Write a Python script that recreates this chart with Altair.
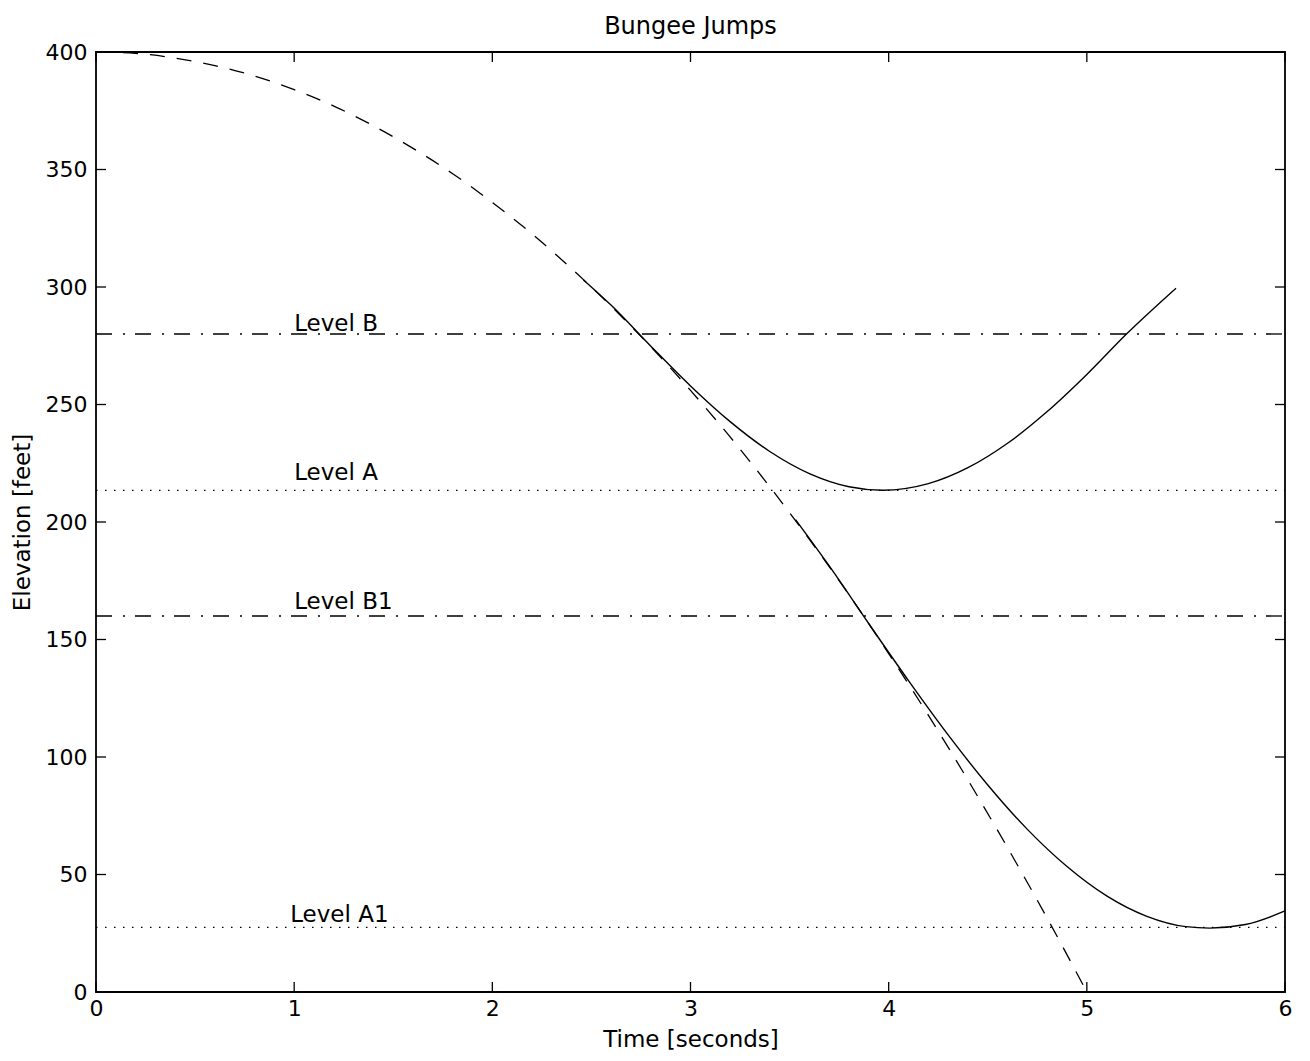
import altair as alt
import pandas as pd

# ---- data ----
t_free = [0.0, 0.2, 0.4, 0.6, 0.8, 1.0, 1.2, 1.4, 1.6, 1.8, 2.0, 2.2, 2.4, 2.6,
          2.8, 3.0, 3.2, 3.4, 3.6, 3.8, 4.0, 4.2, 4.4, 4.6, 4.8, 5.0]
y_free = [400, 399.4, 397.4, 394.2, 389.8, 384, 377, 368.6, 359, 348.2, 336, 322.6,
          307.8, 291.8, 274.6, 256, 236.2, 215, 192.6, 169, 144, 117.8, 90.2, 61.4,
          31.4, 0]

t_jump1 = [2.46, 2.6, 2.8, 3.0, 3.2, 3.4, 3.6, 3.8, 3.97, 4.2, 4.4, 4.6, 4.8, 5.0,
           5.2, 5.45]
y_jump1 = [303, 292.2, 274.8, 257.9, 242.7, 230.0, 220.6, 215.0, 213.5, 216.3, 223.1,
           233.5, 247.0, 262.8, 280.0, 299.5]

t_jump2 = [3.53, 3.7, 3.9, 4.1, 4.3, 4.5, 4.7, 4.9, 5.1, 5.3, 5.5, 5.62, 5.8, 6.0]
y_jump2 = [201, 181.3, 156.7, 132.5, 109.4, 88.1, 69.2, 53.4, 40.9, 32.3, 27.8, 27.2,
           28.7, 34.5]

level_names = ["Level B", "Level A", "Level B1", "Level A1"]
level_values = [280, 213.5, 160, 27.5]
level_styles = ["dashdot", "dotted", "dashdot", "dotted"]
label_t = [1.0, 1.0, 1.0, 0.98]
label_y = [281.3, 218.0, 163.0, 30.0]

x_ticks = [0, 1, 2, 3, 4, 5, 6]
y_ticks = [0, 50, 100, 150, 200, 250, 300, 350, 400]

W, H = 1189, 940
FONT = "DejaVu Sans"

free_df = pd.DataFrame({"t": t_free, "y": y_free})
j1_df = pd.DataFrame({"t": t_jump1, "y": y_jump1})
j2_df = pd.DataFrame({"t": t_jump2, "y": y_jump2})
lev_df = pd.DataFrame({"name": level_names, "t": label_t, "y": level_values,
                       "style": level_styles, "ly": label_y})
xt_df = pd.DataFrame({"t": x_ticks})
yt_df = pd.DataFrame({"y": y_ticks})

xs = alt.Scale(domain=[0, 6], nice=False)
ys = alt.Scale(domain=[0, 400], nice=False)

x_axis = alt.Axis(values=x_ticks, ticks=False, domain=False, grid=False, labelFlush=False,
                  labelFontSize=22, labelPadding=6, labelFont=FONT, labelColor="black",
                  title="Time [seconds]", titleFontSize=23, titleFont=FONT,
                  titleFontWeight="normal", titleColor="black", titlePadding=9)
y_axis = alt.Axis(values=y_ticks, ticks=False, domain=False, grid=False, labelFlush=False,
                  labelFontSize=22, labelPadding=9, labelFont=FONT, labelColor="black",
                  title="Elevation [feet]", titleFontSize=23, titleFont=FONT,
                  titleFontWeight="normal", titleColor="black", titlePadding=11)

X = alt.X("t:Q", scale=xs, axis=x_axis, title="Time [seconds]")
Y = alt.Y("y:Q", scale=ys, axis=y_axis, title="Elevation [feet]")

free = alt.Chart(free_df).mark_line(color="black", strokeWidth=1.3, strokeDash=[15, 12],
                                    interpolate="monotone").encode(x=X, y=Y)
j1 = alt.Chart(j1_df).mark_line(color="black", strokeWidth=1.4,
                                interpolate="monotone").encode(x=X, y=Y)
j2 = alt.Chart(j2_df).mark_line(color="black", strokeWidth=1.4,
                                interpolate="monotone").encode(x=X, y=Y)

levels = alt.Chart(lev_df).mark_rule(color="black", strokeWidth=1.3).encode(
    y=Y,
    x=alt.value(0), x2=alt.value(W),
    strokeDash=alt.StrokeDash("style:N", legend=None,
                              scale=alt.Scale(domain=["dashdot", "dotted"],
                                              range=[[16, 11, 2, 10], [1.5, 7.5]])),
)
labels = alt.Chart(lev_df).mark_text(align="left", baseline="alphabetic", fontSize=23,
                                     font=FONT, color="black").encode(
    x=X, y=alt.Y("ly:Q", scale=ys, axis=y_axis, title="Elevation [feet]"),
    text="name:N")

TL = 10
tick_l = alt.Chart(yt_df).mark_rule(color="black", strokeWidth=1.3).encode(
    y=Y, x=alt.value(0), x2=alt.value(TL))
tick_r = alt.Chart(yt_df).mark_rule(color="black", strokeWidth=1.3).encode(
    y=Y, x=alt.value(W - TL), x2=alt.value(W))
tick_b = alt.Chart(xt_df).mark_rule(color="black", strokeWidth=1.3).encode(
    x=X, y=alt.value(H), y2=alt.value(H - TL))
tick_t = alt.Chart(xt_df).mark_rule(color="black", strokeWidth=1.3).encode(
    x=X, y=alt.value(0), y2=alt.value(TL))

chart = alt.layer(free, levels, j1, j2, labels, tick_l, tick_r, tick_b, tick_t).properties(
    width=W, height=H,
    background="white",
    title=alt.Title("Bungee Jumps", fontSize=24, font=FONT, fontWeight="normal",
                    color="black", offset=2),
    autosize=alt.AutoSizeParams(type="none"),
    padding={"left": 88, "top": 44, "right": 10, "bottom": 60},
).configure_view(stroke="black", strokeWidth=1.8)

chart.save("out.html", embed_options={"renderer": "svg", "actions": False})
